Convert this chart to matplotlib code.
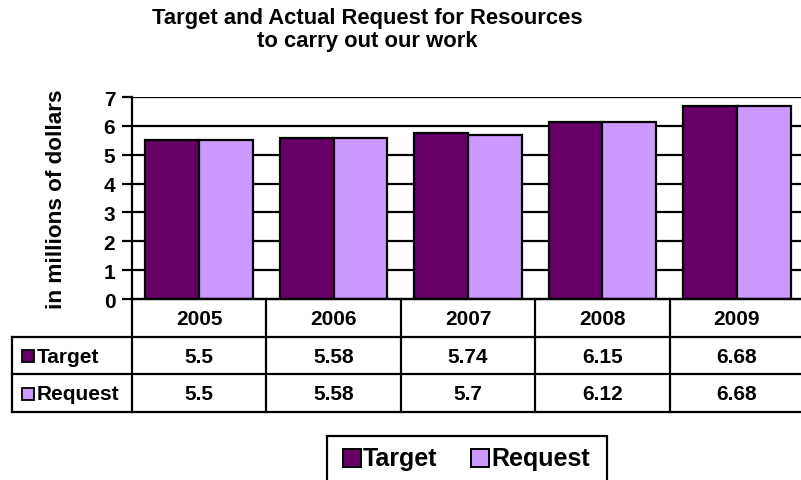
import matplotlib.pyplot as plt
from matplotlib.patches import Rectangle
from matplotlib.lines import Line2D

years = ['2005', '2006', '2007', '2008', '2009']
target = [5.5, 5.58, 5.74, 6.15, 6.68]
request = [5.5, 5.58, 5.7, 6.12, 6.68]
target_txt = ['5.5', '5.58', '5.74', '6.15', '6.68']
request_txt = ['5.5', '5.58', '5.7', '6.12', '6.68']
series = ['Target', 'Request']
colors = ['#660066', '#CC99FF']

plt.rcParams['font.family'] = ['Liberation Sans', 'DejaVu Sans']
plt.rcParams['font.weight'] = 'bold'

W, H = 801, 481
fig = plt.figure(figsize=(W / 100, H / 100), dpi=100)

# pixel box helper -> figure fraction
def box(x0, y0, x1, y1):
    return [x0 / W, 1 - y1 / H, (x1 - x0) / W, (y1 - y0) / H]

cat_px = 134.4
ax = fig.add_axes(box(132, 98, 132 + 5 * cat_px, 300))
ax.set_xlim(-0.5, 4.5)
ax.set_ylim(0, 7)
lw = 1.6
fs = 15

for y in range(1, 8):
    ax.axhline(y, color='black', lw=lw, zorder=1)

xs = range(len(years))
ax.bar([x - 0.2 for x in xs], target, width=0.4, color=colors[0],
       edgecolor='black', lw=lw, zorder=2)
ax.bar([x + 0.2 for x in xs], request, width=0.4, color=colors[1],
       edgecolor='black', lw=lw, zorder=2)

for s in ['top', 'right']:
    ax.spines[s].set_visible(False)
ax.spines['left'].set_linewidth(lw)
ax.spines['bottom'].set_linewidth(lw)
ax.set_xticks([])
ax.set_yticks(range(0, 8))
ax.tick_params(axis='y', direction='out', length=7, width=lw, labelsize=fs, pad=5)
for t in ax.get_yticklabels():
    t.set_fontweight('bold')
ax.set_ylabel('in millions of dollars', fontsize=16.2, fontweight='bold')
ax.yaxis.set_label_coords(-0.097, 0.5)

# data table under the plot
lab_w = 120 / cat_px
tax = fig.add_axes(box(12, 300, 132 + 5 * cat_px, 413))
xl = -0.5 - lab_w
tax.set_xlim(xl, 4.5)
tax.set_ylim(3, 0)
tax.axis('off')

tax.plot([-0.5, 4.5], [0, 0], color='black', lw=lw, clip_on=False)
for y in [1, 2, 3]:
    tax.plot([xl, 4.5], [y, y], color='black', lw=lw, clip_on=False)
for x in [-0.5, 0.5, 1.5, 2.5, 3.5]:
    tax.plot([x, x], [0, 3], color='black', lw=lw, clip_on=False)
tax.plot([xl, xl], [1, 3], color='black', lw=lw, clip_on=False)

for i, yr in enumerate(years):
    tax.text(i, 0.52, yr, ha='center', va='center', fontsize=fs, fontweight='bold')
    tax.text(i, 1.52, target_txt[i], ha='center', va='center', fontsize=fs, fontweight='bold')
    tax.text(i, 2.52, request_txt[i], ha='center', va='center', fontsize=fs, fontweight='bold')

for r, (name, c) in enumerate(zip(series, colors)):
    tax.plot(xl + 16 / cat_px, r + 1.52, marker='s', ms=8.5, mfc=c, mec='black',
             mew=1.3, clip_on=False)
    tax.text(xl + 25 / cat_px, r + 1.52, name, ha='left', va='center',
             fontsize=fs, fontweight='bold')

# title
fig.text(367 / W, 1 - 8 / H, 'Target and Actual Request for Resources\nto carry out our work',
         ha='center', va='top', fontsize=15.8, fontweight='bold', linespacing=1.15)

# legend box (runs off the bottom edge)
fig.patches.append(Rectangle((327 / W, -0.05), (607 - 327) / W, (1 - 437 / H) + 0.05,
                             transform=fig.transFigure, fill=False, ec='black', lw=lw))
ly = 1 - 459 / H
for name, c, mx in zip(series, colors, [352, 480]):
    fig.lines.append(Line2D([mx / W], [ly], marker='s', ms=13.5, mfc=c, mec='black',
                            mew=1.4, transform=fig.transFigure))
    fig.text((mx + 11) / W, ly, name, ha='left', va='center', fontsize=18, fontweight='bold')

fig.savefig('out.png', dpi=100)
